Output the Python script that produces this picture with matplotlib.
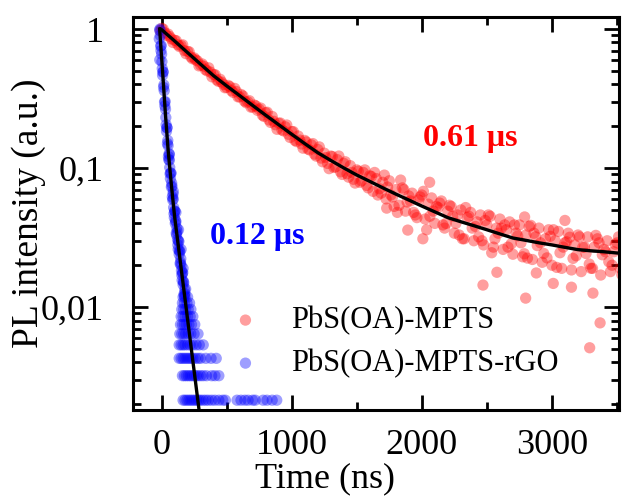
import matplotlib
matplotlib.use("Agg")
import matplotlib.pyplot as plt
from matplotlib.ticker import LogLocator, NullFormatter, FixedLocator

plt.rcParams['font.family'] = ['Liberation Serif', 'DejaVu Serif']

# PbS(OA)-MPTS (red) - decay points
red_t = [-10, 0, 25, 50, 75, 100, 125, 150, 175, 200, 225, 250, 275, 300, 325, 350,
         375, 400, 425, 450, 475, 500, 525, 550, 575, 600, 625, 650, 675, 700, 725, 750,
         775, 800, 825, 850, 875, 900, 925, 950, 975, 1000, 1025, 1050, 1075, 1100, 1125, 1150,
         1175, 1200, 1225, 1250, 1275, 1300, 1325, 1350, 1375, 1400, 1425, 1450, 1475, 1500, 1525, 1550,
         1575, 1600, 1625, 1650, 1675, 1700, 1725, 1750, 1775, 1800, 1825, 1850, 1875, 1900, 1925, 1950,
         1975, 2000, 2025, 2050, 2075, 2100, 2125, 2150, 2175, 2200, 2225, 2250, 2275, 2300, 2325, 2350,
         2375, 2400, 2425, 2450, 2475, 2500, 2525, 2550, 2575, 2600, 2625, 2650, 2675, 2700, 2725, 2750,
         2775, 2800, 2825, 2850, 2875, 2900, 2925, 2950, 2975, 3000, 3025, 3050, 3075, 3100, 3125, 3150,
         3175, 3200, 3225, 3250, 3275, 3300, 3325, 3350, 3375, 3400, 3425, 3450, 3475, 3500, 3525, 3550]
red_y = [0.97, 1.01, 0.94, 0.92, 0.85, 0.83, 0.77, 0.76, 0.70, 0.69, 0.63, 0.62, 0.59, 0.55, 0.54, 0.50,
         0.49, 0.47, 0.43, 0.435, 0.40, 0.38, 0.385, 0.35, 0.355, 0.325, 0.33, 0.295, 0.305, 0.275, 0.28, 0.265,
         0.24, 0.25, 0.222, 0.235, 0.205, 0.21, 0.188, 0.198, 0.175, 0.183, 0.158, 0.17, 0.149, 0.158, 0.137, 0.147,
         0.126, 0.136, 0.118, 0.128, 0.108, 0.122, 0.101, 0.115, 0.094, 0.108, 0.091, 0.104, 0.083, 0.097, 0.079, 0.093,
         0.075, 0.088, 0.068, 0.084, 0.071, 0.079, 0.060, 0.081, 0.062, 0.070, 0.054, 0.072, 0.049, 0.063, 0.066, 0.046,
         0.059, 0.064, 0.043, 0.055, 0.061, 0.040, 0.052, 0.058, 0.037, 0.049, 0.053, 0.034, 0.046, 0.050, 0.031, 0.044,
         0.048, 0.030, 0.041, 0.046, 0.028, 0.039, 0.045, 0.027, 0.037, 0.043, 0.026, 0.036, 0.041, 0.024, 0.034, 0.039,
         0.023, 0.033, 0.038, 0.022, 0.032, 0.037, 0.021, 0.031, 0.036, 0.020, 0.030, 0.035, 0.019, 0.029, 0.034, 0.0185,
         0.028, 0.033, 0.018, 0.027, 0.032, 0.019, 0.027, 0.031, 0.017, 0.026, 0.030, 0.018, 0.025, 0.029, 0.019, 0.026]

# in-between points of the dense early part of the red trace
red_mid_t = [12, 37, 62, 87, 112, 137, 162, 187, 212, 237, 262, 287, 312, 337, 362, 387,
             412, 437, 462, 487, 512, 537, 562, 587, 612, 637, 662, 687, 712, 737, 762, 787,
             812, 837, 862, 887, 912, 937, 962, 987, 1012, 1037, 1062, 1087, 1112, 1137, 1162, 1187,
             1212, 1237, 1262, 1287, 1312, 1337, 1362, 1387, 1412, 1437, 1462, 1487, 1512, 1537, 1562, 1587]
red_mid_y = [1.0, 0.90, 0.883, 0.80, 0.825, 0.748, 0.77, 0.665, 0.686, 0.611, 0.600, 0.543, 0.561, 0.510, 0.526, 0.453,
             0.469, 0.420, 0.415, 0.378, 0.393, 0.360, 0.374, 0.325, 0.338, 0.303, 0.300, 0.274, 0.284, 0.260, 0.270, 0.235,
             0.252, 0.213, 0.217, 0.190, 0.211, 0.185, 0.204, 0.166, 0.183, 0.155, 0.159, 0.139, 0.154, 0.135, 0.150, 0.122,
             0.142, 0.111, 0.119, 0.099, 0.121, 0.102, 0.122, 0.090, 0.111, 0.086, 0.093, 0.078, 0.095, 0.081, 0.097, 0.072]

# extra points of the noisy tail, including outliers
red_late_t = [1612, 1662, 1712, 1762, 1812, 1862, 1912, 1962, 2012, 2062, 2112, 2162, 2212, 2262, 2312, 2362,
              2412, 2462, 2512, 2562, 2612, 2662, 2712, 2762, 2812, 2862, 2912, 2962, 3012, 3062, 3112, 3162,
              3212, 3262, 3312, 3362, 3412, 3462, 3512, 3562,
              1637, 1687, 1737, 1787, 1837, 1887, 1937, 1987, 2037, 2087, 2137, 2187, 2237, 2287, 2337, 2387,
              2437, 2487, 2537, 2587, 2637, 2687, 2737, 2787, 2837, 2887, 2937, 2987, 3037, 3087, 3137, 3187,
              3237, 3287, 3337, 3387, 3437, 3487, 3537, 3587,
              1730, 1892, 2008, 2060, 2470, 2577, 2798, 2790, 2880, 3010, 3100, 3150, 3290, 3315, 3370]
red_late_y = [0.087, 0.064, 0.089, 0.064, 0.048, 0.070, 0.058, 0.044, 0.068, 0.045, 0.053, 0.039, 0.054, 0.040, 0.031, 0.045,
              0.038, 0.030, 0.046, 0.031, 0.037, 0.027, 0.039, 0.029, 0.0225, 0.034, 0.029, 0.0226, 0.036, 0.0246, 0.0295, 0.0224,
              0.032, 0.0243, 0.019, 0.029, 0.025, 0.020, 0.032, 0.022,
              0.093, 0.066, 0.073, 0.053, 0.082, 0.057, 0.048, 0.062, 0.036, 0.049, 0.056, 0.040, 0.045, 0.033, 0.052, 0.037,
              0.032, 0.042, 0.0246, 0.034, 0.039, 0.0285, 0.0325, 0.0242, 0.0387, 0.0277, 0.0243, 0.0323, 0.0193, 0.027, 0.0318, 0.0234,
              0.027, 0.0204, 0.0328, 0.0238, 0.0212, 0.0283, 0.0171, 0.0242,
              0.0515, 0.0358, 0.031, 0.079, 0.0144, 0.0178, 0.0116, 0.0445, 0.0176, 0.0148, 0.042, 0.0139, 0.0051, 0.0126, 0.0077]

# fit curve for the red trace
red_fit_t = [-10, 0, 100, 200, 300, 400, 500, 600, 700, 800, 900, 1000, 1100, 1200, 1300, 1400, 1500, 1600, 1700,
             1800, 1900, 2000, 2100, 2200, 2300, 2400, 2500, 2600, 2700, 2800, 2900, 3000, 3100, 3200, 3300,
             3400, 3500, 3600]
red_fit_y = [1.0, 0.99, 0.820, 0.676, 0.558, 0.461, 0.390, 0.332, 0.282, 0.240, 0.205, 0.175, 0.150, 0.129, 0.1135,
             0.1002, 0.0891, 0.0802, 0.0721, 0.0650, 0.0589, 0.0533, 0.0484, 0.0440, 0.0411, 0.0385, 0.0360, 0.0336,
             0.0314, 0.0302, 0.0290, 0.0280, 0.0269, 0.0259, 0.0254, 0.0250, 0.0245, 0.0242]

# PbS(OA)-MPTS-rGO (blue)
blue_t = [-15, -10, -5, 0, 5, 10, 15, 20, 25, 30, 35, 40, 45, 50, 55, 60, 65, 70, 75, 80,
          85, 90, 95, 100, 105, 110, 115, 120, 125, 130, 135, 140, 145, 150, 155, 160, 165, 170, 175, 180,
          -18, -14, 60, 90, 110, 130, 150, 165, 185,
          -12.5, -7.5, -2.5, 2.5, 7.5, 12.5, 17.5, 22.5, 27.5, 32.5, 37.5, 42.5, 47.5, 52.5, 57.5, 62.5,
          67.5, 72.5, 77.5, 82.5, 87.5, 92.5, 97.5, 102.5, 107.5, 112.5, 117.5, 122.5, 127.5, 132.5, 137.5, 142.5,
          147.5, 152.5, 157.5, 162.5, 167.5, 172.5, 177.5]
blue_y = [0.98, 0.90, 0.70, 0.66, 0.52, 0.49, 0.38, 0.36, 0.28, 0.265, 0.205, 0.195, 0.15, 0.145, 0.115, 0.114,
          0.091, 0.092, 0.073, 0.074, 0.059, 0.060, 0.047, 0.049, 0.040, 0.041, 0.033, 0.035, 0.028, 0.030,
          0.024, 0.025, 0.021, 0.020, 0.017, 0.0175, 0.0145, 0.0150, 0.012, 0.0125,
          0.85, 0.60, 0.125, 0.068, 0.048, 0.036, 0.026, 0.019, 0.0135,
          1.0, 0.753, 0.762, 0.583, 0.465, 0.492, 0.396, 0.299, 0.301, 0.231, 0.184, 0.195, 0.158, 0.121, 0.127, 0.101,
          0.084, 0.092, 0.078, 0.062, 0.065, 0.052, 0.044, 0.049, 0.042, 0.034, 0.037, 0.0305, 0.026, 0.0296, 0.0255, 0.0205,
          0.0223, 0.0183, 0.0156, 0.0177, 0.0153, 0.0124, 0.0133]

# discrete count levels in the blue tail and the times at which they occur
blue_levels = [0.00214, 0.00321, 0.00428, 0.00535, 0.00642, 0.00749, 0.00856, 0.00963, 0.0107, 0.0118]
blue_level_t = [
    [165, 180, 195, 210, 225, 240, 255, 270, 285, 300, 320, 340, 360, 385, 410, 440, 470, 490,
     580, 610, 640, 665, 700, 720, 780, 810, 850, 885],
    [160, 175, 190, 205, 220, 235, 250, 265, 280, 300, 320, 345, 385, 410, 440],
    [135, 150, 165, 180, 195, 210, 225, 240, 260, 280, 300, 340, 380, 420],
    [135, 150, 165, 180, 200, 220, 240, 265, 290, 320],
    [140, 155, 170, 185, 205, 225, 250, 280],
    [145, 160, 175, 190, 210, 230, 255],
    [150, 165, 180, 200, 220, 240],
    [155, 170, 185, 205, 225],
    [160, 175, 195, 215],
    [165, 180, 200],
]

blue_fit_t = [-15, 10, 30, 50, 75, 100, 150, 200, 250, 300]
blue_fit_y = [1.0, 0.457, 0.240, 0.135, 0.0759, 0.0447, 0.0191, 0.00813, 0.00347, 0.00148]

fig = plt.figure(figsize=(6.24, 4.99), dpi=100)
ax = fig.add_axes([0.2131, 0.1784, 0.7788, 0.7875])

ax.scatter(red_t + red_mid_t + red_late_t, red_y + red_mid_y + red_late_y, s=66, color='#ff0000',
           alpha=0.38, edgecolors='none', label='PbS(OA)-MPTS', zorder=2)
bt = list(blue_t)
by = list(blue_y)
for lev, times in zip(blue_levels, blue_level_t):
    bt += times
    by += [lev] * len(times)
ax.scatter(bt, by, s=66, color='#0000ff', alpha=0.38, edgecolors='none',
           label='PbS(OA)-MPTS-rGO', zorder=2)

ax.plot(red_fit_t, red_fit_y, color='black', lw=2.4, zorder=3)
ax.plot(blue_fit_t, blue_fit_y, color='black', lw=2.4, zorder=3)

ax.set_yscale('log')
ax.set_xlim(-220, 3515)
ax.set_ylim(0.00182, 1.22)

ax.yaxis.set_major_locator(FixedLocator([0.01, 0.1, 1]))
ax.set_yticklabels(['0,01', '0,1', '1'])
ax.yaxis.set_minor_locator(LogLocator(base=10, subs=[2, 3, 4, 5, 6, 7, 8, 9]))
ax.yaxis.set_minor_formatter(NullFormatter())
ax.xaxis.set_major_locator(FixedLocator([0, 1000, 2000, 3000]))
ax.xaxis.set_minor_locator(FixedLocator([500, 1500, 2500, 3500]))

ax.tick_params(which='both', direction='in', top=True, right=True, width=2.0, labelsize=26)
ax.tick_params(which='major', length=11)
ax.tick_params(which='minor', length=6)
ax.tick_params(axis='x', pad=14)
ax.tick_params(axis='y', pad=21)
for sp in ax.spines.values():
    sp.set_linewidth(2.2)

ax.set_xlabel('Time (ns)', fontsize=26)
ax.xaxis.set_label_coords(0.395, -0.132)
ax.set_ylabel('PL intensity (a.u.)', fontsize=27)
ax.yaxis.set_label_coords(-0.178, 0.50)

ax.text(2370, 0.164, '0.61 μs', color='#ff0000', fontsize=23, fontweight='bold',
        ha='center', va='center')
ax.text(738, 0.0324, '0.12 μs', color='#0000ff', fontsize=23, fontweight='bold',
        ha='center', va='center')

ax.legend(loc='upper left', bbox_to_anchor=(0.20, 0.265), frameon=False, fontsize=22,
          handlelength=1.0, handletextpad=1.0, labelspacing=0.45, borderpad=0,
          borderaxespad=0)

fig.savefig('out.png', dpi=100)
